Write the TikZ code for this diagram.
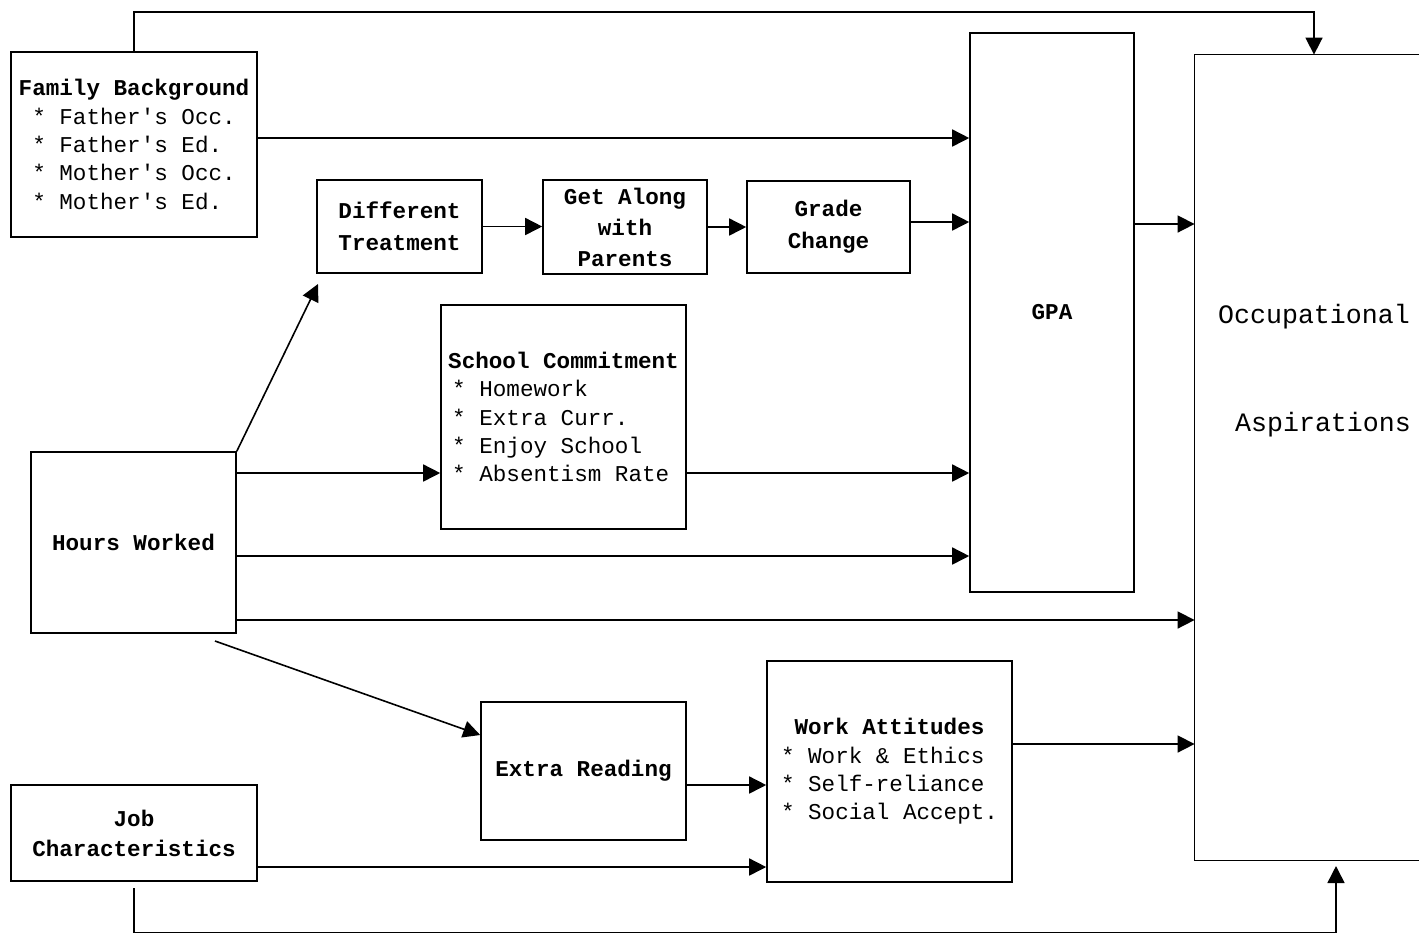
\documentclass[tikz,border=0pt]{standalone}
\usepackage{fontspec}
\setmonofont{Liberation Mono}
\usetikzlibrary{arrows.meta}
\tikzset{
  box/.style={draw, line width=0.8pt, inner sep=0pt, font=\ttfamily\fontsize{11.3}{14.2}\selectfont},
  arr/.style={line width=0.8pt, -{Triangle[length=8.5pt,width=8.5pt]}},
  ln/.style={line width=0.8pt},
}
\begin{document}
\begin{tikzpicture}[x=0.5pt,y=-0.5pt]
\useasboundingbox (0,0) rectangle (1419,934);
% boxes
\node[box, align=left, minimum width=123pt, minimum height=92.5pt] (fam) at (134,144.5)
  {\textbf{Family Background}\\~* Father's Occ.\\~* Father's Ed.\\~* Mother's Occ.\\~* Mother's Ed.};
\node[box, align=center, minimum width=82.5pt, minimum height=46.5pt, font=\ttfamily\bfseries\fontsize{11.3}{16}\selectfont] (dt) at (399.5,226.5)
  {Different\\Treatment};
\node[box, align=center, minimum width=82pt, minimum height=47pt, font=\ttfamily\bfseries\fontsize{11.3}{15.5}\selectfont] (gal) at (625,227)
  {Get Along\\with\\Parents};
\node[box, align=center, minimum width=81.5pt, minimum height=46pt, font=\ttfamily\bfseries\fontsize{11.3}{16}\selectfont] (gc) at (828.5,227)
  {Grade\\Change};
\node[box, minimum width=82pt, minimum height=279.5pt, font=\ttfamily\bfseries\fontsize{11.3}{14.2}\selectfont] (gpa) at (1052,312.5) {GPA};
\node[inner sep=0pt, minimum width=112pt, minimum height=402.5pt] (occ) at (1307,457.5) {};
\draw[ln] (occ.north east) -- (occ.north west) -- (occ.south west) -- (occ.south east);
\node[font=\ttfamily\fontsize{13.3}{16}\selectfont, inner sep=0pt] (occa) at (1314,317) {Occupational};
\node[font=\ttfamily\fontsize{13.3}{16}\selectfont, inner sep=0pt] (occb) at (1323,425) {Aspirations};
\node[box, align=left, minimum width=122.5pt, minimum height=112pt] (sc) at (563.5,417)
  {\textbf{School Commitment}\\\hspace*{2pt}* Homework\\\hspace*{2pt}* Extra Curr.\\\hspace*{2pt}* Enjoy School\\\hspace*{2pt}* Absentism Rate};
\node[box, minimum width=102.5pt, minimum height=90.5pt, font=\ttfamily\bfseries\fontsize{11.3}{14.2}\selectfont] (hw) at (133.5,542.5) {Hours Worked};
\node[box, minimum width=102.5pt, minimum height=69pt, font=\ttfamily\bfseries\fontsize{11.3}{14.2}\selectfont] (er) at (583.5,771) {Extra Reading};
\node[box, align=left, minimum width=122.5pt, minimum height=110.5pt] (wa) at (889.5,771.5)
  {~\textbf{Work Attitudes}\\{*} Work \& Ethics\\{*} Self-reliance\\{*} Social Accept.};
\node[box, align=center, minimum width=123pt, minimum height=48pt, font=\ttfamily\bfseries\fontsize{11.3}{15}\selectfont] (jc) at (134,833)
  {Job\\Characteristics};
% coordinates
\coordinate (topR) at (1314,12);
\coordinate (dtarr) at (318,284);
\coordinate (hwb) at (215,641);
\coordinate (jcb) at (134,888);
\coordinate (botR) at (1336,932.5);
\coordinate (botTip) at (1336,866);
% connectors
\draw[arr] (fam.north) |- (topR) -- (topR |- occ.north);
\draw[arr] (fam.east |- 0,138) -- (gpa.west |- 0,138);
\draw[arr] (dt.east) -- (gal.west |- dt.east);
\draw[arr] (gal.east) -- (gc.west |- gal.east);
\draw[arr] (gc.east |- 0,222) -- (gpa.west |- 0,222);
\draw[arr] (gpa.east |- 0,224) -- (occ.west |- 0,224);
\draw[arr] (hw.north east) -- (dtarr);
\draw[arr] (hw.east |- 0,473) -- (sc.west |- 0,473);
\draw[arr] (sc.east |- 0,473) -- (gpa.west |- 0,473);
\draw[arr] (hw.east |- 0,556) -- (gpa.west |- 0,556);
\draw[arr] (hw.east |- 0,620) -- (occ.west |- 0,620);
\draw[arr] (hwb) -- (er.west |- 0,735);
\draw[arr] (er.east |- 0,785) -- (wa.west |- 0,785);
\draw[arr] (wa.east |- 0,744) -- (occ.west |- 0,744);
\draw[arr] (jc.east |- 0,867) -- (wa.west |- 0,867);
\draw[arr] (jcb) |- (botR) -- (botTip);
\end{tikzpicture}
\end{document}
